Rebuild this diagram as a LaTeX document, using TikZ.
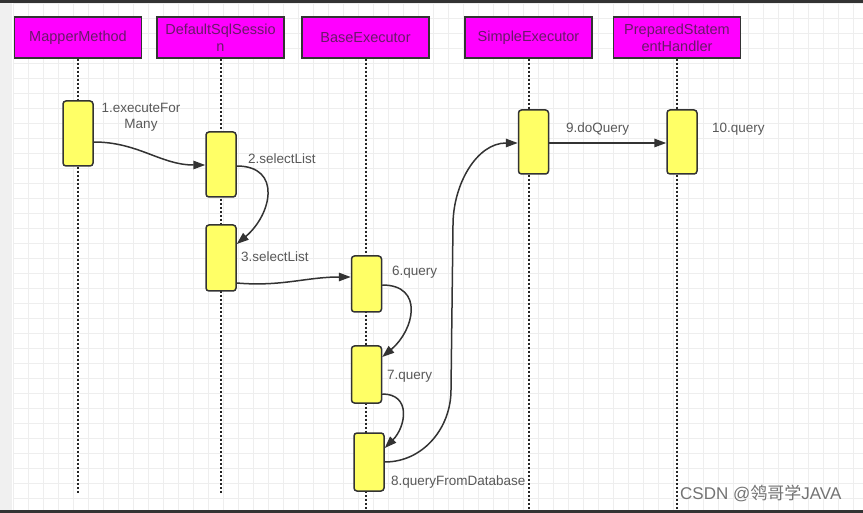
\documentclass[tikz,border=0pt]{standalone}
\usepackage{fontspec}
\setmainfont{Liberation Sans}
\newfontfamily\cjkfont{Noto Sans CJK SC}
\usetikzlibrary{arrows.meta,calc,positioning}
\definecolor{headfill}{RGB}{255,0,255}
\definecolor{headtext}{RGB}{105,25,105}
\definecolor{actfill}{RGB}{255,255,102}
\definecolor{edgegray}{RGB}{51,51,51}
\definecolor{labeltext}{RGB}{89,89,89}
\definecolor{gridline}{RGB}{238,238,238}

\begin{document}
\begin{tikzpicture}[x=1pt,y=-1pt,
  head/.style={draw=edgegray,line width=1.5pt,fill=headfill,minimum width=127pt,
    minimum height=41pt,inner sep=0pt,text=headtext,align=center,
    font=\fontsize{14.5}{17}\selectfont},
  act/.style={draw=edgegray,line width=1.5pt,fill=actfill,rounded corners=3pt,
    minimum width=30pt,inner sep=0pt},
  life/.style={line width=2pt,dash pattern=on 2pt off 2pt,black!85},
  msg/.style={edgegray,line width=1.5pt,-{Triangle[length=12pt,width=8.5pt]}},
  lbl/.style={text=labeltext,inner sep=0pt,text height=10pt,text depth=3pt,
    font=\fontsize{13.5}{16}\selectfont}]

\useasboundingbox (0,0) rectangle (863,513);
\fill[white] (0,0) rectangle (863,513);
\fill[black!6] (0,0) rectangle (12,513);
\foreach \gx in {13,28,...,863} \draw[gridline,line width=0.8pt] (\gx,3) -- (\gx,510);
\foreach \gy in {3,18,...,510} \draw[gridline,line width=0.8pt] (13,\gy) -- (863,\gy);
\fill[edgegray] (0,0) rectangle (863,3);
\fill[edgegray] (0,510) rectangle (863,513);

% heads
\node[head] (mapper) at (78,37.5) {MapperMethod};
\node[head] (session) at (220.5,37.5) {DefaultSqlSessio\\n};
\node[head] (baseexec) at (365.5,37.5) {BaseExecutor};
\node[head] (simpleexec) at (528.5,37.5) {SimpleExecutor};
\node[head] (handler) at (677,37.5) {PreparedStatem\\entHandler};

% lifelines
\draw[life] (mapper.south) -- (mapper.south |- 0,493);
\draw[life] (session.south) -- (session.south |- 0,493);
\draw[life] (baseexec.south) -- (baseexec.south |- 0,509);
\draw[life] (simpleexec.south) -- (simpleexec.south |- 0,509);
\draw[life] (handler.south) -- (handler.south |- 0,509);

% activations
\node[act,minimum height=65pt] (a1) at (78,133.5) {};
\node[act,minimum height=65pt] (a2) at (221,164.5) {};
\node[act,minimum height=66pt] (a3) at (221,258) {};
\node[act,minimum height=56pt] (a6) at (366.5,284) {};
\node[act,minimum height=57pt] (a7) at (366.5,374.5) {};
\node[act,minimum height=58pt] (a8) at (369,462) {};
\node[act,minimum height=64pt] (a9) at (533.5,142) {};
\node[act,minimum height=64pt] (a10) at (682,142) {};

\coordinate (bend8) at (451,390);
\coordinate (bend9) at (453,225);

% messages
\draw[msg] ([yshift=-8.5pt]a1.east) to[out=0,in=180] ([yshift=-0.5pt]a2.west);
\draw[msg] ([yshift=-1.5pt]a2.east) to[out=0,in=40,looseness=1.5] ([yshift=14pt]a3.east);
\draw[msg] ([yshift=-25pt]a3.east) to[out=-5,in=180] ([yshift=7pt]a6.west);
\draw[msg] ([yshift=-1pt]a6.east) to[out=0,in=40,looseness=1.5] ([yshift=17.5pt]a7.east);
\draw[msg] ([yshift=-19.5pt]a7.east) to[out=0,in=45,looseness=1.4] ([yshift=14pt]a8.east);
\draw[msg] (a8.east) to[out=0,in=-90] (bend8) -- (bend9) to[out=90,in=180] ([yshift=-1pt]a9.west);
\draw[msg] ([yshift=-1pt]a9.east) -- ([yshift=-1pt]a10.west);

% labels
\node[lbl,align=center,text height=,text depth=] (l1) at (141,117.5) {1.executeFor\\Many};
\node[lbl,anchor=west] (l2) at (248,160) {2.selectList};
\node[lbl,anchor=west] (l3) at (241,258) {3.selectList};
\node[lbl,anchor=west] (l6) at (392,272) {6.query};
\node[lbl,anchor=west] (l7) at (387,376) {7.query};
\node[lbl,anchor=west] (l8) at (391,482) {8.queryFromDatabase};
\node[lbl,anchor=west] (l9) at (566,129) {9.doQuery};
\node[lbl,anchor=west] (l10) at (712,129) {10.query};

\node[anchor=west,inner sep=0pt,text=black!55,font=\fontsize{17}{20}\selectfont] (mark) at (680,493) {CSDN @{\cjkfont 鸰哥学}JAVA};
\end{tikzpicture}
\end{document}
